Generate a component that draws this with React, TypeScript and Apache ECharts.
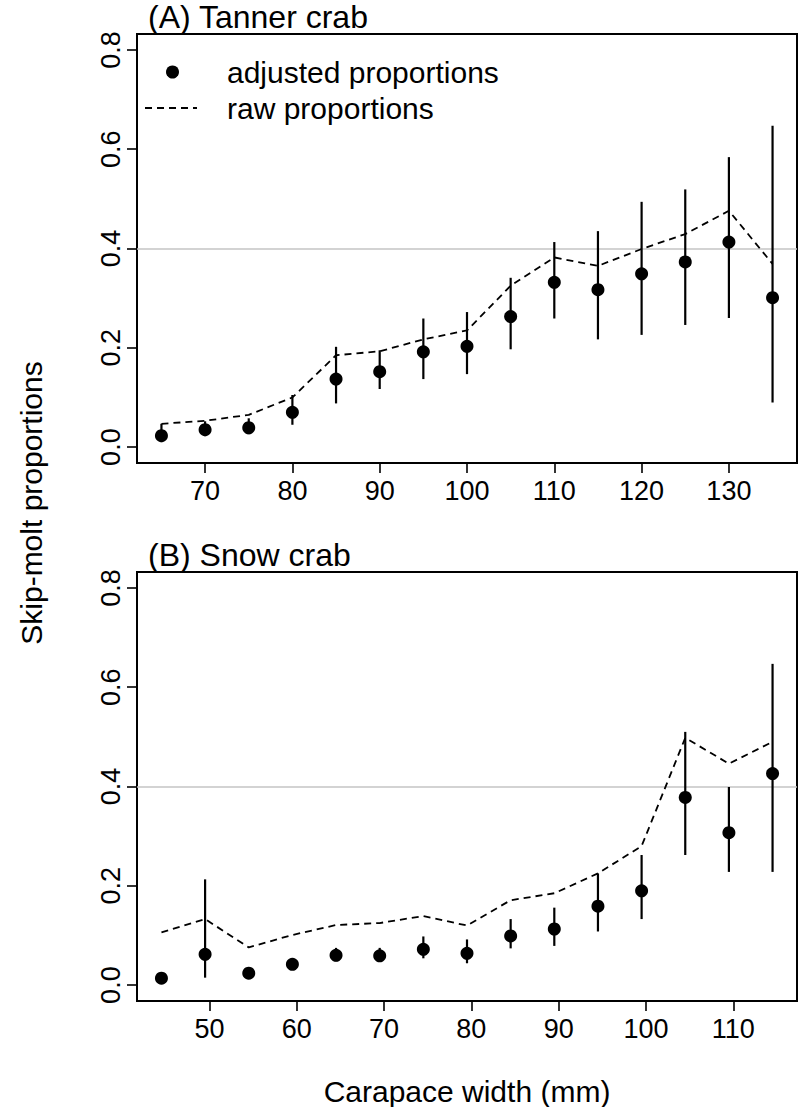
import React, { useEffect, useRef } from "react";
import * as echarts from "echarts";

// ---- data ----
const widthA = [65, 70, 75, 80, 85, 90, 95, 100, 105, 110, 115, 120, 125, 130, 135];
const adjA = [0.023, 0.035, 0.039, 0.070, 0.137, 0.152, 0.192, 0.203, 0.263, 0.332, 0.317, 0.349, 0.373, 0.413, 0.301];
const rawA = [0.047, 0.053, 0.065, 0.100, 0.185, 0.193, 0.217, 0.235, 0.325, 0.382, 0.365, 0.399, 0.429, 0.476, 0.369];
const lowA = [0.010, 0.022, 0.026, 0.045, 0.088, 0.117, 0.137, 0.147, 0.197, 0.259, 0.217, 0.226, 0.246, 0.260, 0.090];
const highA = [0.047, 0.052, 0.058, 0.105, 0.202, 0.195, 0.259, 0.272, 0.341, 0.413, 0.435, 0.494, 0.519, 0.584, 0.647];

const widthB = [44.5, 49.5, 54.5, 59.5, 64.5, 69.5, 74.5, 79.5, 84.5, 89.5, 94.5, 99.5, 104.5, 109.5, 114.5];
const adjB = [0.014, 0.062, 0.024, 0.042, 0.060, 0.059, 0.072, 0.064, 0.099, 0.113, 0.159, 0.190, 0.378, 0.307, 0.426];
const rawB = [0.106, 0.133, 0.076, 0.101, 0.121, 0.125, 0.139, 0.120, 0.171, 0.185, 0.225, 0.280, 0.498, 0.446, 0.490];
const lowB = [0.008, 0.015, 0.018, 0.034, 0.048, 0.047, 0.054, 0.044, 0.074, 0.079, 0.108, 0.133, 0.262, 0.228, 0.228];
const highB = [0.022, 0.213, 0.032, 0.052, 0.075, 0.075, 0.098, 0.092, 0.133, 0.156, 0.225, 0.262, 0.510, 0.399, 0.647];

const xTicksA = [70, 80, 90, 100, 110, 120, 130];
const xTicksB = [50, 60, 70, 80, 90, 100, 110];
const yTicks = [0, 0.2, 0.4, 0.6, 0.8];
const refLine = 0.4;

const panelTitles = ["(A) Tanner crab", "(B) Snow crab"];
const legendLabels = ["adjusted proportions", "raw proportions"];
const xTitle = "Carapace width (mm)";
const yTitle = "Skip-molt proportions";

const FONT = "Liberation Sans, Arial, sans-serif";

export default function App() {
  const ref = useRef<HTMLDivElement>(null);

  useEffect(() => {
    if (!ref.current) return;
    const chart = echarts.init(ref.current, null, { renderer: "svg" });

    const extent = (arr: number[]) => {
      const lo = Math.min(...arr);
      const hi = Math.max(...arr);
      const pad = (hi - lo) * 0.04;
      return [lo - pad, hi + pad];
    };
    const [xminA, xmaxA] = extent(widthA);
    const [xminB, xmaxB] = extent(widthB);
    const [ymin, ymax] = extent([0, 0.8]);

    const xAxisBase = (gridIndex: number, min: number, max: number, ticks: number[]) => ({
      type: "value",
      gridIndex,
      min,
      max,
      axisLine: { show: true, onZero: false, lineStyle: { color: "#000", width: 2 } },
      axisTick: {
        show: true,
        inside: false,
        length: 10,
        customValues: ticks,
        lineStyle: { color: "#000", width: 1.6 },
      },
      axisLabel: {
        show: true,
        customValues: ticks,
        margin: 14,
        color: "#000",
        fontSize: 27,
        fontFamily: FONT,
      },
      splitLine: { show: false },
    });

    const yAxisBase = (gridIndex: number) => ({
      type: "value",
      gridIndex,
      min: ymin,
      max: ymax,
      axisLine: { show: true, onZero: false, lineStyle: { color: "#000", width: 2 } },
      axisTick: {
        show: true,
        inside: false,
        length: 10,
        customValues: yTicks,
        lineStyle: { color: "#000", width: 1.6 },
      },
      axisLabel: {
        show: true,
        customValues: yTicks,
        rotate: 90,
        margin: 13,
        color: "#000",
        fontSize: 27,
        fontFamily: FONT,
        formatter: (v: number) => v.toFixed(1),
      },
      splitLine: { show: false },
    });

    const errRender = (params: any, api: any) => {
      const x = api.value(0);
      const p1 = api.coord([x, api.value(1)]);
      const p2 = api.coord([x, api.value(2)]);
      return {
        type: "line",
        shape: { x1: p1[0], y1: p1[1], x2: p2[0], y2: p2[1] },
        style: { stroke: "#000", lineWidth: 2.2 },
      };
    };

    const panelSeries = (idx: number, xs: number[], adj: number[], raw: number[], lo: number[], hi: number[]) => [
      {
        type: "line",
        xAxisIndex: idx,
        yAxisIndex: idx,
        data: xs.map((x, i) => [x, raw[i]]),
        symbol: "none",
        lineStyle: { color: "#000", width: 1.8, type: [7, 5] },
        z: 2,
        markLine: {
          silent: true,
          symbol: "none",
          label: { show: false },
          lineStyle: { color: "#c4c4c4", width: 1.5, type: "solid" },
          data: [{ yAxis: refLine }],
          z: 1,
        },
      },
      {
        type: "custom",
        xAxisIndex: idx,
        yAxisIndex: idx,
        renderItem: errRender,
        data: xs.map((x, i) => [x, lo[i], hi[i]]),
        encode: { x: 0, y: [1, 2] },
        z: 3,
      },
      {
        type: "scatter",
        xAxisIndex: idx,
        yAxisIndex: idx,
        data: xs.map((x, i) => [x, adj[i]]),
        symbol: "circle",
        symbolSize: 13,
        itemStyle: { color: "#000", opacity: 1 },
        z: 4,
      },
    ];

    const textStyle = (extra: any) => ({
      fontSize: 30,
      fontFamily: FONT,
      fill: "#000",
      ...extra,
    });

    chart.setOption({
      animation: false,
      backgroundColor: "#fff",
      grid: [
        { left: 137, top: 34, width: 660, height: 429, show: true, borderColor: "#000", borderWidth: 2, containLabel: false },
        { left: 137, top: 572, width: 660, height: 429, show: true, borderColor: "#000", borderWidth: 2, containLabel: false },
      ],
      xAxis: [xAxisBase(0, xminA, xmaxA, xTicksA), xAxisBase(1, xminB, xmaxB, xTicksB)],
      yAxis: [yAxisBase(0), yAxisBase(1)],
      series: [
        ...panelSeries(0, widthA, adjA, rawA, lowA, highA),
        ...panelSeries(1, widthB, adjB, rawB, lowB, highB),
      ],
      graphic: [
        { type: "text", x: 148, y: 17, style: textStyle({ text: panelTitles[0], fontSize: 32, verticalAlign: "middle" }) },
        { type: "text", x: 148, y: 555, style: textStyle({ text: panelTitles[1], fontSize: 32, verticalAlign: "middle" }) },
        { type: "circle", shape: { cx: 172.5, cy: 72, r: 6.5 }, style: { fill: "#000" } },
        {
          type: "line",
          shape: { x1: 145, y1: 108, x2: 197, y2: 108 },
          style: { stroke: "#000", lineWidth: 1.8, lineDash: [7, 5] },
        },
        { type: "text", x: 227, y: 72, style: textStyle({ text: legendLabels[0], verticalAlign: "middle" }) },
        { type: "text", x: 227, y: 108, style: textStyle({ text: legendLabels[1], verticalAlign: "middle" }) },
        {
          type: "text",
          x: 467,
          y: 1091,
          style: textStyle({ text: xTitle, align: "center", verticalAlign: "middle" }),
        },
        {
          type: "text",
          x: 31,
          y: 503,
          rotation: Math.PI / 2,
          style: textStyle({ text: yTitle, align: "center", verticalAlign: "middle" }),
        },
      ],
    });

    return () => chart.dispose();
  }, []);

  return (
    <div
      ref={ref}
      style={{ position: "fixed", left: 0, top: 0, width: 805, height: 1107, background: "#fff" }}
    />
  );
}
